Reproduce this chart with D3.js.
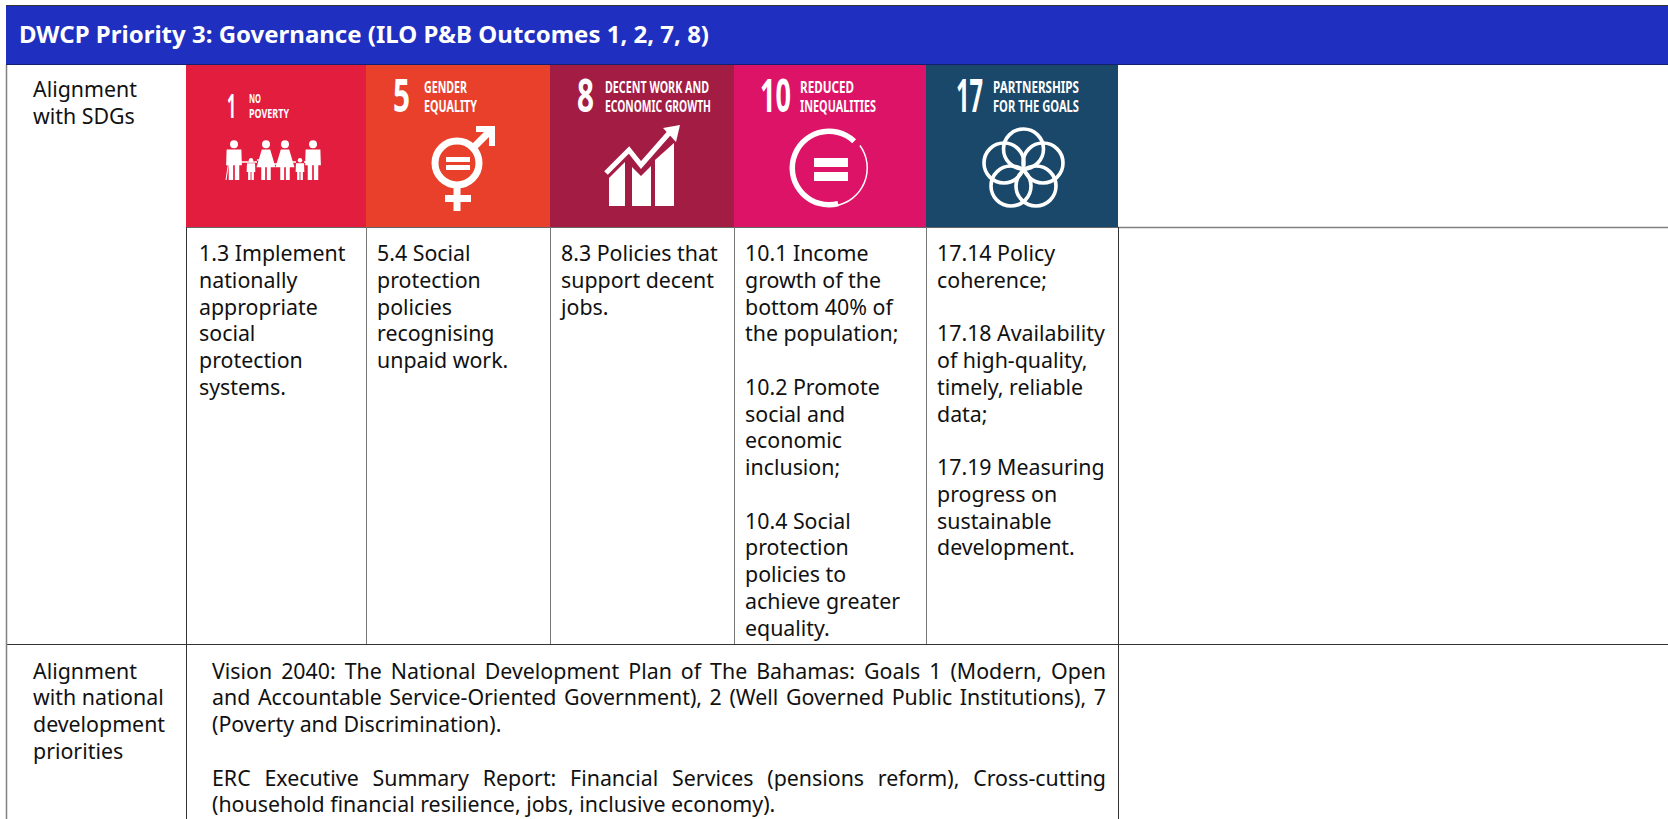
<!DOCTYPE html>
<html>
<head>
<meta charset="utf-8">
<script src="https://cdn.jsdelivr.net/npm/d3@7"></script>
<style>
  html, body { margin: 0; padding: 0; background: #fff; overflow: hidden; }
  text { font-family: "Noto Sans", sans-serif; }
</style>
</head>
<body>
<svg id="table" width="1668" height="819"></svg>
<script>
const headerText = 'DWCP Priority 3: Governance (ILO P&B Outcomes 1, 2, 7, 8)'
const rowLabel1 = ['Alignment', 'with SDGs']
const rowLabel2 = ['Alignment', 'with national', 'development', 'priorities']

const goalNumbers = ['1', '5', '8', '10', '17']
const goalTitles = [
    ['NO', 'POVERTY'],
    ['GENDER', 'EQUALITY'],
    ['DECENT WORK AND', 'ECONOMIC GROWTH'],
    ['REDUCED', 'INEQUALITIES'],
    ['PARTNERSHIPS', 'FOR THE GOALS']
]
const goalColors = ['#e21d3d', '#e8402b', '#a21c44', '#dd1367', '#19486a']

const targetTexts = [
    ['1.3 Implement', 'nationally', 'appropriate', 'social', 'protection', 'systems.'],
    ['5.4 Social', 'protection', 'policies', 'recognising', 'unpaid work.'],
    ['8.3 Policies that', 'support decent', 'jobs.'],
    ['10.1 Income', 'growth of the', 'bottom 40% of', 'the population;', '', '10.2 Promote', 'social and', 'economic', 'inclusion;', '', '10.4 Social', 'protection', 'policies to', 'achieve greater', 'equality.'],
    ['17.14 Policy', 'coherence;', '', '17.18 Availability', 'of high-quality,', 'timely, reliable', 'data;', '', '17.19 Measuring', 'progress on', 'sustainable', 'development.']
]

// last line of each paragraph is not justified
const nationalText = [
    { t: 'Vision 2040: The National Development Plan of The Bahamas: Goals 1 (Modern, Open', justify: true },
    { t: 'and Accountable Service-Oriented Government), 2 (Well Governed Public Institutions), 7', justify: true },
    { t: '(Poverty and Discrimination).', justify: false },
    { t: '', justify: false },
    { t: 'ERC Executive Summary Report: Financial Services (pensions reform), Cross-cutting', justify: true },
    { t: '(household financial resilience, jobs, inclusive economy).', justify: false }
]

const svg = d3.select('#table')
const width = 1668, height = 819
const left = 6
const headerTop = 6, headerBottom = 65, tileBottom = 227, rowBottom = 644

const colEdges = [186, 366, 550, 734, 926, 1118]
const colX = d3.scaleOrdinal().domain(d3.range(6)).range(colEdges)
const fontSize = 21.35
const lineHeight = 26.75

const lineLines = svg.append('g')

// header band
svg.append('rect')
    .attr('x', left).attr('y', headerTop)
    .attr('width', width - left).attr('height', headerBottom - headerTop)
    .attr('fill', '#1f2fbf')
svg.append('line')
    .attr('x1', left).attr('x2', width).attr('y1', headerTop - .5).attr('y2', headerTop - .5)
    .attr('stroke', '#333')
svg.append('line')
    .attr('x1', left).attr('x2', width).attr('y1', headerBottom - .5).attr('y2', headerBottom - .5)
    .attr('stroke', '#14206e')
svg.append('text')
    .attr('x', 19).attr('y', 43)
    .attr('fill', '#fff')
    .attr('font-weight', 700)
    .attr('font-size', 24)
    .text(headerText)

// grid lines
const hLines = [
    { x1: colEdges[5], x2: width, y: tileBottom, c: '#808080', w: 1.5 },
    { x1: colEdges[0], x2: colEdges[5], y: tileBottom, c: '#666', w: 1 },
    { x1: left, x2: width, y: rowBottom, c: '#333', w: 1 }
]
lineLines.selectAll('line.h').data(hLines).enter().append('line')
    .attr('class', 'h')
    .attr('x1', d => d.x1).attr('x2', d => d.x2)
    .attr('y1', d => d.y + .5).attr('y2', d => d.y + .5)
    .attr('stroke', d => d.c).attr('stroke-width', d => d.w)

const vLines = [
    { x: left + .5, y1: headerBottom, y2: height, c: '#808080', w: 1.5 },
    { x: colEdges[0] + .5, y1: tileBottom, y2: height, c: '#333', w: 1 },
    { x: colEdges[1] + .5, y1: tileBottom, y2: rowBottom, c: '#777', w: 1 },
    { x: colEdges[2] + .5, y1: tileBottom, y2: rowBottom, c: '#777', w: 1 },
    { x: colEdges[3] + .5, y1: tileBottom, y2: rowBottom, c: '#777', w: 1 },
    { x: colEdges[4] + .5, y1: tileBottom, y2: rowBottom, c: '#777', w: 1 },
    { x: colEdges[5] + .5, y1: tileBottom, y2: height, c: '#333', w: 1 }
]
lineLines.selectAll('line.v').data(vLines).enter().append('line')
    .attr('class', 'v')
    .attr('x1', d => d.x).attr('x2', d => d.x)
    .attr('y1', d => d.y1).attr('y2', d => d.y2)
    .attr('stroke', d => d.c).attr('stroke-width', d => d.w)

// SDG tiles
svg.selectAll('rect.tile').data(goalColors).enter().append('rect')
    .attr('class', 'tile')
    .attr('x', (d, i) => colX(i))
    .attr('y', headerBottom)
    .attr('width', (d, i) => colX(i + 1) - colX(i))
    .attr('height', tileBottom - headerBottom)
    .attr('fill', d => d)

// Condensed tile lettering: squeeze horizontally to the measured width
function tileText(x, y, w, size, txt) {
    const t = svg.append('text')
        .attr('fill', '#fff')
        .attr('font-size', size)
        .attr('font-weight', 700)
        .attr('font-family', '"Liberation Sans Narrow", "Liberation Sans", sans-serif')
        .text(txt)
    const natural = t.node().getComputedTextLength()
    t.attr('transform', `translate(${x},${y}) scale(${w / natural},1)`)
}

const numberBoxes = [[227, 9, 118, 34], [393, 17, 112, 46], [577, 17, 112, 46], [760, 31, 112, 46], [956, 27, 112, 46]]
const titleBoxes = [
    [[249, 12, 103, 12], [249, 40, 118, 12]],
    [[424, 43, 93, 16.4], [424, 53, 112, 16.4]],
    [[605, 104, 93, 16.4], [605, 106, 112, 16.4]],
    [[800, 54, 93, 16.4], [800, 76, 112, 16.4]],
    [[993, 86, 93, 16.4], [993, 86, 112, 16.4]]
]
goalNumbers.forEach((n, i) => {
    const b = numberBoxes[i]
    tileText(b[0], b[2], b[1], b[3], n)
    goalTitles[i].forEach((t, j) => {
        const k = titleBoxes[i][j]
        tileText(k[0], k[2], k[1], k[3], t)
    })
})

// --- icons ---
const icons = svg.append('g').attr('fill', '#fff')

// Goal 1: family
function person(cx, top, h, skirt) {
    const g = icons.append('g')
    const s = h / 38
    g.append('circle').attr('cx', cx).attr('cy', top + 4 * s).attr('r', 3.8 * s)
    if (skirt) {
        g.append('path').attr('d', d3.line()([
            [cx - 4 * s, top + 9 * s], [cx + 4 * s, top + 9 * s], [cx + 9 * s, top + 26 * s],
            [cx + 4.5 * s, top + 26 * s], [cx + 4.5 * s, top + 38 * s], [cx + .8 * s, top + 38 * s],
            [cx + .8 * s, top + 26 * s], [cx - .8 * s, top + 26 * s], [cx - .8 * s, top + 38 * s],
            [cx - 4.5 * s, top + 38 * s], [cx - 4.5 * s, top + 26 * s], [cx - 9 * s, top + 26 * s]
        ]) + 'Z')
    } else {
        g.append('path').attr('d', d3.line()([
            [cx - 7 * s, top + 9 * s], [cx + 7 * s, top + 9 * s], [cx + 7.5 * s, top + 24 * s],
            [cx + 5 * s, top + 24 * s], [cx + 5 * s, top + 38 * s], [cx + .8 * s, top + 38 * s],
            [cx + .8 * s, top + 24 * s], [cx - .8 * s, top + 24 * s], [cx - .8 * s, top + 38 * s],
            [cx - 5 * s, top + 38 * s], [cx - 5 * s, top + 24 * s], [cx - 7.5 * s, top + 24 * s]
        ]) + 'Z')
    }
}
person(234, 140, 40, false)
person(251, 158, 22, false)
person(266, 140, 40, true)
person(285, 140, 40, true)
person(300, 158, 22, false)
person(313, 140, 40, false)
icons.append('line')
    .attr('x1', 229).attr('y1', 160).attr('x2', 226).attr('y2', 180)
    .attr('stroke', '#fff').attr('stroke-width', 1)
// joined hands
const handLinks = [[241, 257, 162], [257, 262, 160], [274, 278, 164], [291, 296, 162], [304, 306, 162]]
icons.selectAll('line.hand').data(handLinks).enter().append('line')
    .attr('class', 'hand')
    .attr('x1', d => d[0]).attr('x2', d => d[1])
    .attr('y1', d => d[2]).attr('y2', d => d[2])
    .attr('stroke', '#fff').attr('stroke-width', 1.5)

// Goal 5: gender symbol
icons.append('circle')
    .attr('cx', 457).attr('cy', 163).attr('r', 22)
    .attr('fill', 'none').attr('stroke', '#fff').attr('stroke-width', 7)
icons.append('rect').attr('x', 446).attr('y', 157).attr('width', 24).attr('height', 5)
icons.append('rect').attr('x', 446).attr('y', 165).attr('width', 24).attr('height', 5)
icons.append('rect').attr('x', 453.5).attr('y', 187).attr('width', 7).attr('height', 24)
icons.append('rect').attr('x', 445).attr('y', 195).attr('width', 26).attr('height', 7)
icons.append('path').attr('d', d3.line()([[473, 148], [490, 131]]))
    .attr('stroke', '#fff').attr('stroke-width', 7).attr('fill', 'none')
icons.append('path').attr('d', d3.line()([[476, 126], [495, 126], [495, 146], [489, 146], [489, 132], [476, 132]]) + 'Z')

// Goal 8: growth chart
icons.append('path').attr('d', d3.line()([[609, 178], [625, 162], [625, 206], [609, 206]]) + 'Z')
icons.append('path').attr('d', d3.line()([[632, 167], [641, 176], [651, 166], [651, 206], [632, 206]]) + 'Z')
icons.append('path').attr('d', d3.line()([[655, 160], [674, 143], [674, 206], [655, 206]]) + 'Z')
icons.append('path').attr('d', d3.line()([[606, 173], [629, 150], [641, 165], [670, 132]]))
    .attr('stroke', '#fff').attr('stroke-width', 5).attr('fill', 'none')
icons.append('path').attr('d', d3.line()([[680, 125], [663, 128], [676, 142]]) + 'Z')

// Goal 10: equals in a broken ring
const arc10 = d3.arc()
icons.append('path')
    .attr('transform', 'translate(829,168)')
    .attr('d', arc10({ innerRadius: 34, outerRadius: 39.5, startAngle: Math.PI * 0.92, endAngle: Math.PI * 2.24 }))
icons.append('path')
    .attr('transform', 'translate(829,168)')
    .attr('d', arc10({ innerRadius: 37.5, outerRadius: 39, startAngle: Math.PI * 0.3, endAngle: Math.PI * 0.95 }))
icons.append('rect').attr('x', 814).attr('y', 158).attr('width', 34).attr('height', 9)
icons.append('rect').attr('x', 814).attr('y', 172).attr('width', 34).attr('height', 9)

// Goal 17: five rings
const ringX = [1023.5, 1004, 1043, 1011, 1036]
const ringY = [149, 163, 163, 186, 186]
icons.selectAll('circle.ring').data(ringX).enter().append('circle')
    .attr('class', 'ring')
    .attr('cx', d => d)
    .attr('cy', (d, i) => ringY[i])
    .attr('r', 20)
    .attr('fill', 'none')
    .attr('stroke', '#fff')
    .attr('stroke-width', 3.6)

// --- body text ---
function block(lines, x, y0) {
    const g = svg.append('g')
    g.selectAll('text').data(lines).enter().append('text')
        .attr('x', x)
        .attr('y', (d, i) => y0 + i * lineHeight)
        .attr('font-size', fontSize)
        .attr('fill', '#111')
        .text(d => d)
}

block(rowLabel1, 33, 97)
block(rowLabel2, 33, 678.5)

const textX = [199, 377, 561, 745, 937]
targetTexts.forEach((lines, i) => block(lines, textX[i], 261))

// justified paragraph, word spacing measured per line
const natX = 212, natRight = 1106
svg.append('g').selectAll('text').data(nationalText).enter().append('text')
    .attr('x', natX)
    .attr('y', (d, i) => 678.5 + i * lineHeight)
    .attr('font-size', fontSize)
    .attr('fill', '#111')
    .text(d => d.t)
    .each(function(d) {
        if (!d.justify) return
        const gaps = d.t.split(' ').length - 1
        const extra = (natRight - natX - this.getComputedTextLength()) / gaps
        d3.select(this).attr('word-spacing', extra)
    })
</script>
</body>
</html>
